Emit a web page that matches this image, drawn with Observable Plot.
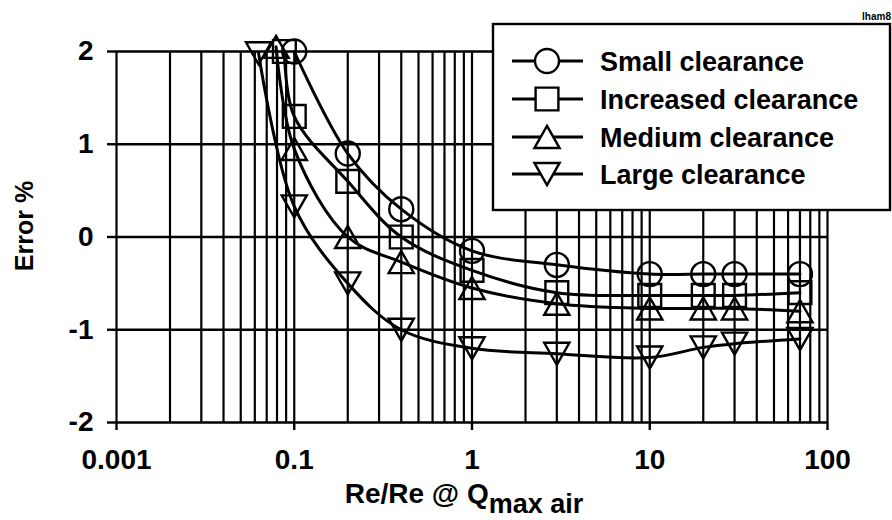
<!DOCTYPE html>
<html><head><meta charset="utf-8">
<script src="https://cdn.jsdelivr.net/npm/d3@7"></script>
<script src="https://cdn.jsdelivr.net/npm/@observablehq/plot@0.6"></script>
<style>
html,body{margin:0;padding:0;background:#fff;}
#chart{position:relative;width:892px;height:520px;}
#chart svg{display:block;}
</style></head><body><div id="chart"></div>
<script>
// ---- data ----
const seriesNames = ["Small clearance", "Increased clearance", "Medium clearance", "Large clearance"];

const smallX = [0.1, 0.2, 0.4, 1, 3, 10, 20, 30, 70];
const smallY = [2.0, 0.9, 0.3, -0.15, -0.3, -0.4, -0.4, -0.4, -0.4];

const increasedX = [0.088, 0.1, 0.2, 0.4, 1, 3, 10, 20, 30, 70];
const increasedY = [2.0, 1.3, 0.6, 0.0, -0.36, -0.6, -0.63, -0.63, -0.63, -0.6];

const mediumX = [0.079, 0.1, 0.2, 0.4, 1, 3, 10, 20, 30, 70];
const mediumY = [2.05, 0.95, 0.0, -0.27, -0.55, -0.72, -0.77, -0.77, -0.77, -0.8];

const largeX = [0.063, 0.1, 0.2, 0.4, 1, 3, 10, 20, 30, 70];
const largeY = [1.98, 0.33, -0.5, -1.0, -1.2, -1.26, -1.3, -1.19, -1.15, -1.1];

const xTickValues = [0.01, 0.1, 1, 10, 100];
const xTickLabels = ["0.001", "0.1", "1", "10", "100"];
const yTickValues = [-2, -1, 0, 1, 2];
const yTickLabels = ["-2", "-1", "0", "1", "2"];

const xTitleMain = "Re/Re @ Q";
const xTitleSub = "max air";
const yTitle = "Error %";
const cornerNote = "lham8";

// ---- symbols (hollow, bbox-centred like spreadsheet markers) ----
const circleSym = {draw(c, size) { const r = Math.sqrt(size / Math.PI); c.moveTo(r, 0); c.arc(0, 0, r, 0, 2 * Math.PI); }};
const squareSym = {draw(c, size) { const r = Math.sqrt(size / Math.PI) * 0.95; c.rect(-r, -r, 2 * r, 2 * r); }};
const triUpSym = {draw(c, size) { const r = Math.sqrt(size / Math.PI); const w = r * 1.05, h = r * 0.92;
  c.moveTo(0, -h); c.lineTo(w, h); c.lineTo(-w, h); c.closePath(); }};
const triDownSym = {draw(c, size) { const r = Math.sqrt(size / Math.PI); const w = r * 1.05, h = r * 0.92;
  c.moveTo(0, h); c.lineTo(w, -h); c.lineTo(-w, -h); c.closePath(); }};

const series = [
  {name: seriesNames[0], xs: smallX, ys: smallY, sym: circleSym},
  {name: seriesNames[1], xs: increasedX, ys: increasedY, sym: squareSym},
  {name: seriesNames[2], xs: mediumX, ys: mediumY, sym: triUpSym},
  {name: seriesNames[3], xs: largeX, ys: largeY, sym: triDownSym}
];
const tables = series.map(s => s.xs.map((x, i) => ({series: s.name, x, y: s.ys[i]})));

// minor log gridlines: every 1..9 multiple per decade
const gridXValues = [];
for (const dec of [0.01, 0.1, 1, 10]) for (let k = 1; k <= 9; k++) gridXValues.push(+(k * dec).toPrecision(3));
gridXValues.push(100);

const FONT = "'Liberation Sans', Arial, Helvetica, sans-serif";

const plot = Plot.plot({
  width: 892, height: 520,
  marginLeft: 116, marginRight: 65, marginTop: 51, marginBottom: 98,
  style: {fontFamily: FONT, fontSize: "28px", fontWeight: "bold", color: "black", background: "white", overflow: "visible"},
  x: {type: "log", domain: [0.01, 100]},
  y: {domain: [-2, 2]},
  marks: [
    Plot.gridX(gridXValues, {stroke: "black", strokeOpacity: 1, strokeWidth: 2.2}),
    Plot.gridY(yTickValues, {stroke: "black", strokeOpacity: 1, strokeWidth: 2.4}),
    Plot.axisX(xTickValues, {tickFormat: d => xTickLabels[xTickValues.indexOf(d)], tickSize: 8, tickPadding: 19, strokeWidth: 2.4, label: null}),
    Plot.axisY(yTickValues, {tickFormat: d => yTickLabels[yTickValues.indexOf(d)], tickSize: 9, tickPadding: 14, strokeWidth: 2.4, label: null}),
    ...tables.map(t => Plot.line(t, {x: "x", y: "y", curve: "catmull-rom", stroke: "black", strokeWidth: 3})),
    ...tables.map((t, i) => Plot.dot(t, {x: "x", y: "y", symbol: series[i].sym, r: 12, stroke: "black", strokeWidth: 2.4, fill: "none"}))
  ]
});
document.getElementById("chart").appendChild(plot);

// ---- titles, note and legend ----
const svg = d3.select(plot);
const xt = svg.append("text").attr("x", 464).attr("y", 503).attr("text-anchor", "middle")
  .attr("font-family", FONT).attr("font-weight", "bold").attr("font-size", 28).attr("fill", "black");
xt.append("tspan").text(xTitleMain);
xt.append("tspan").attr("dy", 10).attr("font-size", 27).text(xTitleSub);

svg.append("text").attr("transform", "translate(33,226) rotate(-90)").attr("text-anchor", "middle")
  .attr("font-family", FONT).attr("font-weight", "bold").attr("font-size", 25).attr("fill", "black").text(yTitle);

svg.append("text").attr("x", 891).attr("y", 20).attr("text-anchor", "end")
  .attr("font-family", FONT).attr("font-weight", "bold").attr("font-size", 10).attr("fill", "black").text(cornerNote);

const lg = svg.append("g").attr("text-anchor", "start");
lg.append("rect").attr("x", 493).attr("y", 24).attr("width", 397).attr("height", 186)
  .attr("fill", "white").attr("stroke", "black").attr("stroke-width", 2.4);
const rowY = [61, 99, 137, 174];
series.forEach((s, i) => {
  const y = rowY[i];
  lg.append("line").attr("x1", 512).attr("x2", 583).attr("y1", y).attr("y2", y).attr("stroke", "black").attr("stroke-width", 3);
  const size = Math.PI * 12 * 12;
  lg.append("path").attr("transform", `translate(547,${y})`).attr("d", d3.symbol(s.sym, size)())
    .attr("fill", "white").attr("stroke", "black").attr("stroke-width", 2.4);
  lg.append("text").attr("x", 600).attr("y", y).attr("dy", "0.36em").attr("text-anchor", "start").attr("font-family", FONT)
    .attr("font-weight", "bold").attr("font-size", 27).attr("fill", "black").text(s.name);
});
</script>
</body></html>
